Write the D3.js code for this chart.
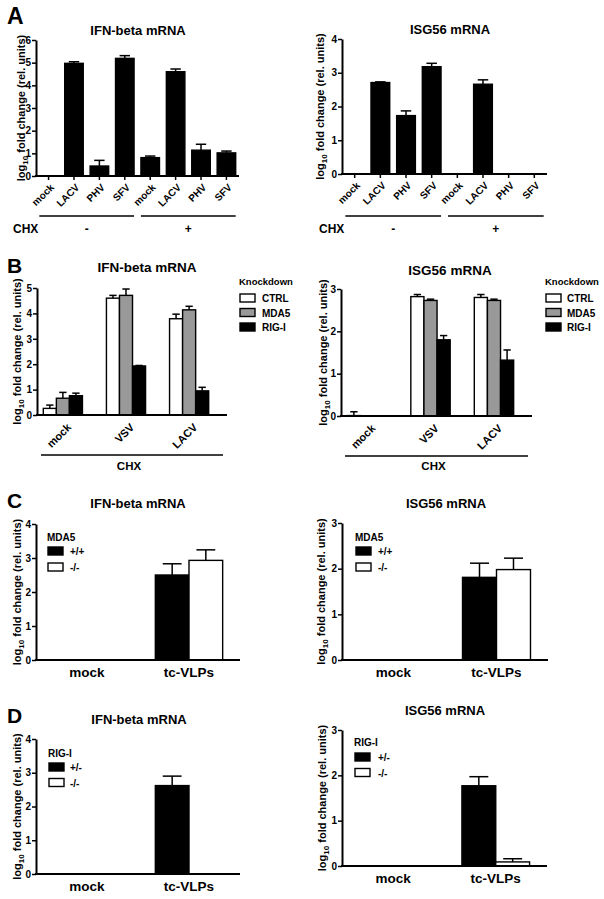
<!DOCTYPE html>
<html>
<head>
<meta charset="utf-8">
<script src="https://cdn.jsdelivr.net/npm/d3@7"></script>
<style>
  body { margin: 0; background: #fff; }
  svg { display: block; font-family: "Liberation Sans", Arial, sans-serif; font-weight: bold; }
</style>
</head>
<body>
<script>
// ---- data (log10 fold change, mean and error) ----

// panel A : single bars, 4 infections without and with CHX
const aCategories = ["mock", "LACV", "PHV", "SFV", "mock", "LACV", "PHV", "SFV"];
const aChxGroups = ["-", "+"];
const aIfnMean = [0, 4.97, 0.44, 5.19, 0.81, 4.60, 1.14, 1.02];
const aIfnErr  = [0, 0.07, 0.25, 0.12, 0.07, 0.12, 0.26, 0.08];
const aIsgMean = [0, 2.71, 1.73, 3.18, 0, 2.66, 0, 0];
const aIsgErr  = [0, 0.02, 0.14, 0.10, 0, 0.13, 0, 0];

// panel B : knockdown, rows = infection, cols = knockdown
const bInfections = ["mock", "VSV", "LACV"];
const bKnockdowns = ["CTRL", "MDA5", "RIG-I"];
const bIfnMean = [[0.26, 0.66, 0.76], [4.60, 4.71, 1.93], [3.79, 4.14, 0.95]];
const bIfnErr  = [[0.13, 0.23, 0.10], [0.11, 0.25, 0.02], [0.18, 0.14, 0.14]];
const bIsgMean = [[0.01, 0, 0], [2.82, 2.73, 1.80], [2.80, 2.73, 1.32]];
const bIsgErr  = [[0.09, 0, 0], [0.05, 0.03, 0.10], [0.07, 0.03, 0.24]];

// panel C : MDA5 genotype
const cTreatments = ["mock", "tc-VLPs"];
const cGenotypes = ["+/+", "-/-"];
const cIfnMean = [[0, 0], [2.50, 2.93]];
const cIfnErr  = [[0, 0], [0.33, 0.31]];
const cIsgMean = [[0, 0], [1.81, 1.98]];
const cIsgErr  = [[0, 0], [0.31, 0.25]];

// panel D : RIG-I genotype
const dTreatments = ["mock", "tc-VLPs"];
const dGenotypes = ["+/-", "-/-"];
const dIfnMean = [[0, 0], [2.62, 0]];
const dIfnErr  = [[0, 0], [0.28, 0]];
const dIsgMean = [[0, 0], [1.77, 0.09]];
const dIsgErr  = [[0, 0], [0.20, 0.07]];

// ---------------------------------------------------------------

const svg = d3.select("body").append("svg")
    .attr("width", 604)
    .attr("height", 899);

svg.append("rect").attr("width", 604).attr("height", 899).attr("fill", "#fff");

// single-series arrays -> [group][series]
const wrap = arr => arr.map(v => [v]);

const panels = [
    { letter: "A", letterX: 7, letterY: 24, letterSize: 23,
      title: "IFN-beta mRNA", titleX: 138, titleY: 35, titleSize: 13,
      groups: aCategories, series: ["all"], fills: ["#000"],
      mean: wrap(aIfnMean), err: wrap(aIfnErr), yMax: 6,
      x0: 36, x1: 239, yTop: 40, y0: 176, ylabX: 25,
      inset: [0, 0], padInner: 0.27, padOuter: 0.13,
      xLabel: "rot", xLabelSize: 10, xLabelDx: 6, xLabelDy: 12, xTicks: true,
      chx: { groups: aChxGroups, per: 4, lineY: 216, labelX: 13, labelY: 233, size: 12 } },
    { title: "ISG56 mRNA", titleX: 450, titleY: 34, titleSize: 13,
      groups: aCategories, series: ["all"], fills: ["#000"],
      mean: wrap(aIsgMean), err: wrap(aIsgErr), yMax: 4,
      x0: 342, x1: 547, yTop: 39, y0: 174, ylabX: 324,
      inset: [0, 0], padInner: 0.27, padOuter: 0.13,
      xLabel: "rot", xLabelSize: 10, xLabelDx: 6, xLabelDy: 12, xTicks: true,
      chx: { groups: aChxGroups, per: 4, lineY: 216, labelX: 319, labelY: 233, size: 12 } },
    { letter: "B", letterX: 7, letterY: 273, letterSize: 21,
      title: "IFN-beta mRNA", titleX: 147, titleY: 272, titleSize: 13.5,
      groups: bInfections, series: bKnockdowns, fills: ["#fff", "#999", "#000"],
      mean: bIfnMean, err: bIfnErr, yMax: 5,
      x0: 37, x1: 227, yTop: 288, y0: 415, ylabX: 21,
      inset: [0, 12], padInner: 0.38, padOuter: 0.1,
      xLabel: "rot", xLabelSize: 11, xLabelDx: 9, xLabelDy: 13, xTicks: false,
      legend: { title: "Knockdown", x: 239, y: 285, titleSize: 9.5, rowY: 298, step: 14.5, textDx: 23 },
      chxB: { lineY: 455, labelY: 470, size: 11.5 } },
    { title: "ISG56 mRNA", titleX: 450, titleY: 275, titleSize: 13.5,
      groups: bInfections, series: bKnockdowns, fills: ["#fff", "#999", "#000"],
      mean: bIsgMean, err: bIsgErr, yMax: 3,
      x0: 341, x1: 532, yTop: 289, y0: 416, ylabX: 327,
      inset: [0, 12], padInner: 0.38, padOuter: 0.1,
      xLabel: "rot", xLabelSize: 11, xLabelDx: 9, xLabelDy: 13, xTicks: false,
      legend: { title: "Knockdown", x: 545, y: 285, titleSize: 9.5, rowY: 298, step: 14.5, textDx: 22 },
      chxB: { lineY: 456, labelY: 470, size: 11.5 } },
    { letter: "C", letterX: 7, letterY: 508, letterSize: 21,
      title: "IFN-beta mRNA", titleX: 138, titleY: 508, titleSize: 13,
      groups: cTreatments, series: cGenotypes, fills: ["#000", "#fff"],
      mean: cIfnMean, err: cIfnErr, yMax: 4,
      x0: 36, x1: 240, yTop: 524, y0: 660, ylabX: 21,
      inset: [0, 0], padInner: 0.34, padOuter: 0.17,
      xLabel: "flat", xLabelSize: 13.5, xLabelDy: 17, xTicks: false,
      legend: { title: "MDA5", x: 47, y: 541, titleSize: 10, rowY: 551, step: 16, textDx: 23 } },
    { title: "ISG56 mRNA", titleX: 446, titleY: 508, titleSize: 13,
      groups: cTreatments, series: cGenotypes, fills: ["#000", "#fff"],
      mean: cIsgMean, err: cIsgErr, yMax: 3,
      x0: 342, x1: 548, yTop: 523, y0: 660, ylabX: 325,
      inset: [0, 0], padInner: 0.34, padOuter: 0.17,
      xLabel: "flat", xLabelSize: 13.5, xLabelDy: 17, xTicks: false,
      legend: { title: "MDA5", x: 355, y: 541, titleSize: 10, rowY: 551, step: 16, textDx: 23 } },
    { letter: "D", letterX: 7, letterY: 723, letterSize: 21,
      title: "IFN-beta mRNA", titleX: 139, titleY: 724, titleSize: 13,
      groups: dTreatments, series: dGenotypes, fills: ["#000", "#fff"],
      mean: dIfnMean, err: dIfnErr, yMax: 4,
      x0: 36, x1: 240, yTop: 739, y0: 874, ylabX: 21,
      inset: [0, 0], padInner: 0.34, padOuter: 0.17,
      xLabel: "flat", xLabelSize: 13.5, xLabelDy: 17, xTicks: false,
      legend: { title: "RIG-I", x: 48, y: 757, titleSize: 10, rowY: 767, step: 15.5, textDx: 22 } },
    { title: "ISG56 mRNA", titleX: 445, titleY: 715, titleSize: 13,
      groups: dTreatments, series: dGenotypes, fills: ["#000", "#fff"],
      mean: dIsgMean, err: dIsgErr, yMax: 3,
      x0: 342, x1: 547, yTop: 730, y0: 866, ylabX: 326,
      inset: [0, 0], padInner: 0.34, padOuter: 0.17,
      xLabel: "flat", xLabelSize: 13.5, xLabelDy: 17, xTicks: false,
      legend: { title: "RIG-I", x: 354, y: 746, titleSize: 10, rowY: 757, step: 15.5, textDx: 24 } }
];

function drawPanel(p) {
    const g = svg.append("g");

    const y = d3.scaleLinear().domain([0, p.yMax]).range([p.y0, p.yTop]);
    const x = d3.scaleBand()
        .domain(d3.range(p.groups.length))
        .range([p.x0 + p.inset[0], p.x1 - p.inset[1]])
        .paddingInner(p.padInner)
        .paddingOuter(p.padOuter);
    const xs = d3.scaleBand().domain(d3.range(p.series.length)).range([0, x.bandwidth()]);

    // panel letter + title
    if (p.letter) {
        g.append("text").attr("x", p.letterX).attr("y", p.letterY)
            .attr("font-size", p.letterSize).text(p.letter);
    }
    g.append("text").attr("x", p.titleX).attr("y", p.titleY)
        .attr("text-anchor", "middle").attr("font-size", p.titleSize).text(p.title);

    // bars
    const cells = [];
    p.mean.forEach((row, gi) => row.forEach((v, si) => cells.push({ gi, si, v, e: p.err[gi][si] })));

    const bars = g.append("g").selectAll("g").data(cells).join("g")
        .attr("transform", d => `translate(${x(d.gi) + xs(d.si)},0)`);

    bars.filter(d => d.v > 0).append("rect")
        .attr("x", 0)
        .attr("y", d => y(d.v))
        .attr("width", xs.bandwidth())
        .attr("height", d => y(0) - y(d.v))
        .attr("fill", d => p.fills[d.si])
        .attr("stroke", "#000")
        .attr("stroke-width", 1.4);

    // upper error bars with caps
    const eb = bars.filter(d => d.e > 0);
    const cap = xs.bandwidth() * 0.28;
    eb.append("line")
        .attr("x1", xs.bandwidth() / 2).attr("x2", xs.bandwidth() / 2)
        .attr("y1", d => y(d.v)).attr("y2", d => y(d.v + d.e))
        .attr("stroke", "#000").attr("stroke-width", 1.5);
    eb.append("line")
        .attr("x1", xs.bandwidth() / 2 - cap).attr("x2", xs.bandwidth() / 2 + cap)
        .attr("y1", d => y(d.v + d.e)).attr("y2", d => y(d.v + d.e))
        .attr("stroke", "#000").attr("stroke-width", 1.5);

    // y axis
    const yAxis = g.append("g")
        .attr("transform", `translate(${p.x0},0)`)
        .call(d3.axisLeft(y)
            .tickValues(d3.range(0, p.yMax + 1))
            .tickFormat(d3.format("d"))
            .tickSize(4).tickSizeOuter(0).tickPadding(1));
    yAxis.attr("font-family", null).attr("font-size", 10);
    yAxis.select(".domain").attr("stroke-width", 2);
    yAxis.selectAll(".tick line").attr("stroke-width", 1.5);
    yAxis.selectAll(".tick text").attr("font-weight", "bold").attr("fill", "#000");

    // y axis title
    const yl = g.append("text")
        .attr("transform", `translate(${p.ylabX},${(p.y0 + p.yTop) / 2}) rotate(-90)`)
        .attr("text-anchor", "middle")
        .attr("font-size", 11);
    yl.append("tspan").text("log");
    yl.append("tspan").attr("font-size", 8).attr("dy", 3).text("10");
    yl.append("tspan").attr("dy", -3).text(" fold change (rel. units)");

    // x axis line
    g.append("line")
        .attr("x1", p.x0 - 1).attr("x2", p.x1)
        .attr("y1", p.y0).attr("y2", p.y0)
        .attr("stroke", "#000").attr("stroke-width", 2);

    if (p.xTicks) {
        g.append("g").selectAll("line").data(d3.range(p.groups.length)).join("line")
            .attr("x1", i => x(i) + x.bandwidth() / 2).attr("x2", i => x(i) + x.bandwidth() / 2)
            .attr("y1", p.y0).attr("y2", p.y0 + 4)
            .attr("stroke", "#000").attr("stroke-width", 1.5);
    }

    // x labels
    if (p.xLabel === "rot") {
        g.append("g").selectAll("text").data(p.groups).join("text")
            .attr("transform", (d, i) => `translate(${x(i) + x.bandwidth() / 2 + p.xLabelDx},${p.y0 + p.xLabelDy}) rotate(-45)`)
            .attr("text-anchor", "end")
            .attr("font-size", p.xLabelSize)
            .text(d => d);
    } else {
        g.append("g").selectAll("text").data(p.groups).join("text")
            .attr("x", (d, i) => x(i) + x.bandwidth() / 2)
            .attr("y", p.y0 + p.xLabelDy)
            .attr("text-anchor", "middle")
            .attr("font-size", p.xLabelSize)
            .text(d => d);
    }

    // CHX annotation for panel A (two groups of four)
    if (p.chx) {
        const c = p.chx;
        g.append("text").attr("x", c.labelX).attr("y", c.labelY).attr("font-size", c.size).text("CHX");
        c.groups.forEach((lab, k) => {
            const a = x(k * c.per);
            const b = x(k * c.per + c.per - 1) + x.bandwidth();
            g.append("line").attr("x1", a).attr("x2", b).attr("y1", c.lineY).attr("y2", c.lineY)
                .attr("stroke", "#000").attr("stroke-width", 1.5);
            g.append("text").attr("x", (a + b) / 2).attr("y", c.labelY)
                .attr("text-anchor", "middle").attr("font-size", c.size).text(lab);
        });
    }

    // CHX annotation for panel B (one line under all)
    if (p.chxB) {
        const c = p.chxB;
        const a = p.x0 + 4, b = p.x1 - 4;
        g.append("line").attr("x1", a).attr("x2", b).attr("y1", c.lineY).attr("y2", c.lineY)
            .attr("stroke", "#000").attr("stroke-width", 1.5);
        g.append("text").attr("x", (a + b) / 2 - 3).attr("y", c.labelY)
            .attr("text-anchor", "middle").attr("font-size", c.size).text("CHX");
    }

    // legend
    if (p.legend) {
        const L = p.legend;
        g.append("text").attr("x", L.x).attr("y", L.y).attr("font-size", L.titleSize).text(L.title);
        const rows = g.append("g").selectAll("g").data(p.series).join("g")
            .attr("transform", (d, i) => `translate(${L.x},${L.rowY + i * L.step})`);
        rows.append("rect")
            .attr("x", 1).attr("y", -4).attr("width", 15).attr("height", 8)
            .attr("fill", (d, i) => p.fills[i])
            .attr("stroke", "#000").attr("stroke-width", 1.4);
        rows.append("text")
            .attr("x", L.textDx).attr("y", 4)
            .attr("font-size", 10)
            .text(d => d);
    }
}

panels.forEach(drawPanel);
</script>
</body>
</html>
